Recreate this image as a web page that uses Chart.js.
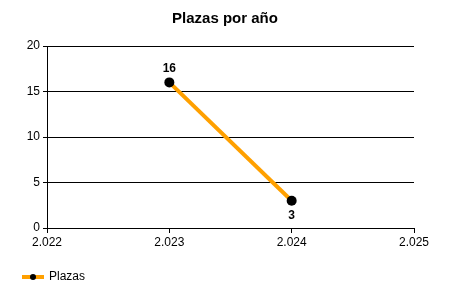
<!DOCTYPE html>
<html>
<head>
<meta charset="utf-8">
<script src="https://cdn.jsdelivr.net/npm/chart.js@4.4.1/dist/chart.umd.min.js"></script>
<style>
  html, body { margin: 0; padding: 0; background: #fff; }
  #wrap { width: 450px; height: 300px; }
</style>
</head>
<body>
<div id="wrap"><canvas id="plazasChart" width="450" height="300"></canvas></div>
<script>
var years = [2023, 2024];
var plazas = [16, 3];
var seriesName = 'Plazas';
var chartTitle = 'Plazas por año';

// numero con punto de miles, ej. 2.022
function fmtMiles(v) {
    return String(Math.round(v)).replace(/\B(?=(\d{3})+(?!\d))/g, '.');
}

// etiquetas de valor encima / debajo de cada punto
var valueLabels = {
    id: 'valueLabels',
    afterDatasetsDraw: function (chart) {
        var ctx = chart.ctx;
        var meta = chart.getDatasetMeta(0);
        var data = chart.data.datasets[0].data;
        var mean = data.reduce(function (a, p) { return a + p.y; }, 0) / data.length;
        ctx.save();
        ctx.font = 'bold 12px "Liberation Sans", Arial, sans-serif';
        ctx.fillStyle = '#000';
        ctx.textAlign = 'center';
        ctx.textBaseline = 'middle';
        meta.data.forEach(function (pt, i) {
            var above = data[i].y >= mean;
            ctx.fillText(String(data[i].y), pt.x, above ? pt.y - 14 : pt.y + 15);
        });
        ctx.restore();
    }
};

// leyenda abajo a la izquierda
var bottomLegend = {
    id: 'bottomLegend',
    afterDraw: function (chart) {
        var ctx = chart.ctx;
        ctx.save();
        ctx.strokeStyle = '#FFA000';
        ctx.lineWidth = 4;
        ctx.beginPath();
        ctx.moveTo(22, 277);
        ctx.lineTo(44, 277);
        ctx.stroke();
        ctx.fillStyle = '#000';
        ctx.beginPath();
        ctx.arc(33, 277, 3, 0, Math.PI * 2);
        ctx.fill();
        ctx.font = '12px "Liberation Sans", Arial, sans-serif';
        ctx.textAlign = 'left';
        ctx.textBaseline = 'middle';
        ctx.fillText(seriesName, 49, 277);
        ctx.restore();
    }
};

var ctx = document.getElementById('plazasChart').getContext('2d');
var plazasChart = new Chart(ctx, {
    type: 'line',
    data: {
        datasets: [{
            label: seriesName,
            data: years.map(function (y, i) { return { x: y, y: plazas[i] }; }),
            borderColor: '#FFA000',
            backgroundColor: '#000',
            borderWidth: 4,
            pointRadius: 5,
            pointBorderWidth: 0,
            pointBackgroundColor: '#000',
            pointHoverRadius: 5
        }]
    },
    options: {
        responsive: false,
        animation: false,
        layout: { padding: 0 },
        plugins: {
            legend: { display: false },
            tooltip: { enabled: false },
            title: {
                display: true,
                text: chartTitle,
                color: '#000',
                font: { family: '"Liberation Sans", Arial, sans-serif', size: 15, weight: 'bold' },
                padding: { top: 10, bottom: 18 }
            }
        },
        scales: {
            x: {
                type: 'linear',
                min: 2022,
                max: 2025,
                afterFit: function (scale) { scale.height = 72; },
                ticks: {
                    stepSize: 1,
                    color: '#000',
                    padding: 2,
                    font: { family: '"Liberation Sans", Arial, sans-serif', size: 12 },
                    callback: function (v) { return fmtMiles(v); }
                },
                grid: { drawOnChartArea: false, drawTicks: true, tickLength: 5, color: '#000' },
                border: { color: '#000', width: 1 }
            },
            y: {
                min: 0,
                max: 20,
                afterFit: function (scale) { scale.width = 47; },
                ticks: {
                    stepSize: 5,
                    color: '#000',
                    padding: 3,
                    font: { family: '"Liberation Sans", Arial, sans-serif', size: 12 }
                },
                grid: { color: '#000', tickLength: 4 },
                border: { color: '#000', width: 1 }
            },
            // eje vacio a la derecha, solo reserva margen
            yRight: {
                position: 'right',
                min: 0,
                max: 20,
                afterFit: function (scale) { scale.width = 36; },
                ticks: { display: false },
                grid: { display: false },
                border: { display: false }
            }
        }
    },
    plugins: [valueLabels, bottomLegend]
});
</script>
</body>
</html>
